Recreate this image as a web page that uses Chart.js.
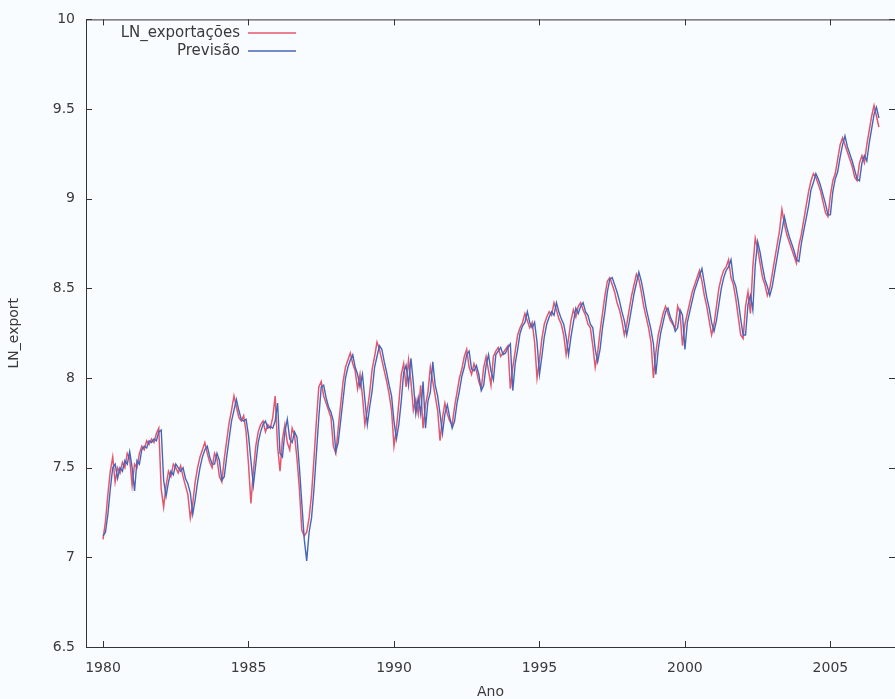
<!DOCTYPE html>
<html>
<head>
<meta charset="utf-8">
<title>LN_exportações vs Previsão</title>
<script src="https://cdn.jsdelivr.net/npm/chart.js@4.4.1/dist/chart.umd.min.js"></script>
<style>
    html, body { margin: 0; padding: 0; background: #f9fcfe; }
    canvas { display: block; }
</style>
</head>
<body>
<canvas id="chart" width="895" height="699"></canvas>
<script>
// monthly series, first value = Jan 1980
const startYear = 1980;
const xTicks = [1980, 1985, 1990, 1995, 2000, 2005];
const yTicks = [6.5, 7, 7.5, 8, 8.5, 9, 9.5, 10];

// LN_exportações (one row per year)
const exportacoes = [
    7.10, 7.20, 7.35, 7.48, 7.56, 7.42, 7.50, 7.47, 7.53, 7.50, 7.58, 7.55, // 1980
    7.40, 7.52, 7.50, 7.58, 7.62, 7.60, 7.65, 7.63, 7.66, 7.64, 7.69, 7.72, // 1981
    7.38, 7.28, 7.40, 7.48, 7.45, 7.52, 7.50, 7.47, 7.51, 7.45, 7.40, 7.35, // 1982
    7.22, 7.30, 7.42, 7.50, 7.56, 7.60, 7.64, 7.58, 7.53, 7.50, 7.58, 7.55, // 1983
    7.45, 7.42, 7.55, 7.65, 7.75, 7.82, 7.90, 7.84, 7.78, 7.76, 7.79, 7.70, // 1984
    7.52, 7.30, 7.48, 7.62, 7.70, 7.74, 7.76, 7.70, 7.74, 7.72, 7.78, 7.90, // 1985
    7.62, 7.48, 7.66, 7.74, 7.64, 7.60, 7.72, 7.68, 7.55, 7.38, 7.15, 7.12, // 1986
    7.14, 7.22, 7.35, 7.55, 7.76, 7.95, 7.98, 7.90, 7.86, 7.82, 7.78, 7.62, // 1987
    7.58, 7.72, 7.85, 7.98, 8.06, 8.10, 8.14, 8.08, 8.04, 7.94, 8.02, 7.90, // 1988
    7.74, 7.82, 7.92, 8.05, 8.12, 8.20, 8.16, 8.10, 8.04, 7.98, 7.91, 7.82, // 1989
    7.62, 7.72, 7.86, 8.02, 8.08, 7.95, 8.10, 7.98, 7.82, 7.88, 7.80, 7.96, // 1990
    7.72, 7.85, 7.92, 8.06, 7.98, 7.90, 7.82, 7.65, 7.78, 7.86, 7.80, 7.76, // 1991
    7.74, 7.84, 7.92, 8.00, 8.05, 8.12, 8.16, 8.06, 8.02, 8.08, 8.04, 7.98, // 1992
    7.94, 8.06, 8.12, 8.04, 7.96, 8.12, 8.15, 8.17, 8.12, 8.14, 8.16, 8.18, // 1993
    7.94, 8.06, 8.15, 8.24, 8.28, 8.31, 8.36, 8.32, 8.28, 8.31, 8.20, 8.00, // 1994
    8.10, 8.22, 8.30, 8.34, 8.37, 8.35, 8.42, 8.38, 8.33, 8.30, 8.24, 8.13, // 1995
    8.22, 8.32, 8.38, 8.34, 8.40, 8.42, 8.38, 8.35, 8.30, 8.28, 8.18, 8.06, // 1996
    8.14, 8.26, 8.36, 8.46, 8.54, 8.56, 8.52, 8.48, 8.42, 8.38, 8.32, 8.24, // 1997
    8.30, 8.38, 8.46, 8.52, 8.58, 8.55, 8.48, 8.40, 8.34, 8.28, 8.20, 8.00, // 1998
    8.14, 8.24, 8.30, 8.36, 8.40, 8.36, 8.32, 8.30, 8.28, 8.40, 8.36, 8.18, // 1999
    8.30, 8.36, 8.42, 8.48, 8.52, 8.56, 8.60, 8.54, 8.46, 8.40, 8.32, 8.24, // 2000
    8.30, 8.40, 8.50, 8.56, 8.60, 8.62, 8.66, 8.56, 8.52, 8.44, 8.34, 8.24, // 2001
    8.22, 8.40, 8.48, 8.36, 8.62, 8.78, 8.72, 8.64, 8.56, 8.52, 8.46, 8.50, // 2002
    8.58, 8.66, 8.74, 8.82, 8.94, 8.86, 8.80, 8.76, 8.72, 8.68, 8.64, 8.74, // 2003
    8.80, 8.88, 8.96, 9.04, 9.10, 9.14, 9.12, 9.08, 9.04, 8.98, 8.92, 8.90, // 2004
    9.02, 9.10, 9.14, 9.22, 9.30, 9.34, 9.30, 9.26, 9.22, 9.18, 9.12, 9.10, // 2005
    9.20, 9.24, 9.20, 9.30, 9.38, 9.46, 9.52, 9.46, 9.40                    // 2006
];

// Previsão (one row per year)
const previsao = [
    7.12, 7.14, 7.24, 7.38, 7.50, 7.52, 7.44, 7.50, 7.48, 7.54, 7.52, 7.59, // 1980
    7.50, 7.37, 7.54, 7.52, 7.60, 7.62, 7.61, 7.65, 7.64, 7.66, 7.65, 7.70, // 1981
    7.71, 7.43, 7.34, 7.42, 7.48, 7.46, 7.52, 7.50, 7.48, 7.50, 7.44, 7.41, // 1982
    7.36, 7.24, 7.32, 7.42, 7.50, 7.56, 7.60, 7.62, 7.56, 7.52, 7.52, 7.58, // 1983
    7.54, 7.43, 7.45, 7.56, 7.66, 7.76, 7.82, 7.88, 7.82, 7.77, 7.76, 7.77, // 1984
    7.68, 7.54, 7.40, 7.52, 7.64, 7.70, 7.74, 7.76, 7.72, 7.73, 7.72, 7.76, // 1985
    7.86, 7.58, 7.56, 7.70, 7.77, 7.66, 7.64, 7.70, 7.67, 7.50, 7.30, 7.10, // 1986
    6.98, 7.14, 7.22, 7.38, 7.58, 7.78, 7.95, 7.96, 7.89, 7.84, 7.81, 7.76, // 1987
    7.59, 7.64, 7.76, 7.88, 8.00, 8.06, 8.10, 8.13, 8.06, 8.02, 7.95, 8.02, // 1988
    7.88, 7.74, 7.84, 7.93, 8.06, 8.12, 8.18, 8.16, 8.09, 8.03, 7.96, 7.90, // 1989
    7.76, 7.66, 7.74, 7.87, 8.03, 8.07, 7.96, 8.11, 7.97, 7.80, 7.89, 7.80, // 1990
    7.98, 7.72, 7.87, 7.92, 8.09, 7.96, 7.90, 7.80, 7.69, 7.80, 7.85, 7.78, // 1991
    7.72, 7.76, 7.86, 7.93, 8.01, 8.06, 8.13, 8.15, 8.05, 8.04, 8.07, 8.02, // 1992
    7.93, 7.96, 8.07, 8.13, 8.04, 7.99, 8.13, 8.15, 8.17, 8.13, 8.14, 8.17, // 1993
    8.19, 7.93, 8.08, 8.16, 8.25, 8.29, 8.31, 8.37, 8.31, 8.28, 8.31, 8.20, // 1994
    8.02, 8.12, 8.23, 8.30, 8.34, 8.37, 8.35, 8.42, 8.37, 8.33, 8.30, 8.23, // 1995
    8.13, 8.23, 8.31, 8.39, 8.36, 8.40, 8.42, 8.37, 8.35, 8.30, 8.28, 8.16, // 1996
    8.09, 8.16, 8.28, 8.37, 8.48, 8.55, 8.56, 8.52, 8.48, 8.43, 8.37, 8.32, // 1997
    8.24, 8.31, 8.39, 8.47, 8.53, 8.59, 8.54, 8.47, 8.39, 8.33, 8.27, 8.19, // 1998
    8.02, 8.16, 8.25, 8.31, 8.37, 8.39, 8.34, 8.31, 8.26, 8.28, 8.38, 8.35, // 1999
    8.16, 8.31, 8.37, 8.43, 8.49, 8.53, 8.57, 8.61, 8.53, 8.45, 8.39, 8.31, // 2000
    8.26, 8.32, 8.41, 8.50, 8.56, 8.60, 8.62, 8.66, 8.55, 8.51, 8.43, 8.33, // 2001
    8.24, 8.24, 8.41, 8.46, 8.38, 8.63, 8.76, 8.70, 8.62, 8.55, 8.51, 8.46, // 2002
    8.51, 8.59, 8.67, 8.75, 8.82, 8.90, 8.84, 8.79, 8.75, 8.71, 8.66, 8.65, // 2003
    8.75, 8.82, 8.89, 8.96, 9.05, 9.09, 9.14, 9.11, 9.07, 9.02, 8.97, 8.91, // 2004
    8.91, 9.04, 9.11, 9.15, 9.23, 9.30, 9.35, 9.29, 9.25, 9.21, 9.16, 9.11, // 2005
    9.10, 9.20, 9.24, 9.21, 9.31, 9.39, 9.47, 9.51, 9.45                    // 2006
];

function toPoints(values) {
    return values.map((v, i) => ({ x: startYear + i / 12, y: v }));
}

const fontFamily = '"DejaVu Sans", Verdana, sans-serif';
const textColor = '#3a3a3a';

// gnuplot style box with inward ticks on all four sides
const framePlugin = {
    id: 'frame',
    afterDatasetsDraw(chart) {
        const { ctx, chartArea: a, scales } = chart;
        const len = 6;
        ctx.save();
        ctx.strokeStyle = '#333';
        ctx.lineWidth = 1;
        ctx.strokeRect(a.left + 0.5, a.top + 0.5, a.right - a.left, a.bottom - a.top);
        ctx.beginPath();
        scales.x.ticks.forEach(t => {
            const px = Math.round(scales.x.getPixelForValue(t.value)) + 0.5;
            ctx.moveTo(px, a.bottom); ctx.lineTo(px, a.bottom - len);
            ctx.moveTo(px, a.top); ctx.lineTo(px, a.top + len);
        });
        scales.y.ticks.forEach(t => {
            const py = Math.round(scales.y.getPixelForValue(t.value)) + 0.5;
            ctx.moveTo(a.left, py); ctx.lineTo(a.left + len, py);
            ctx.moveTo(a.right, py); ctx.lineTo(a.right - len, py);
        });
        ctx.stroke();
        ctx.restore();
    }
};

// legend inside the plot, text right aligned then line sample
const legendPlugin = {
    id: 'insideLegend',
    afterDraw(chart) {
        const ctx = chart.ctx;
        ctx.save();
        ctx.font = '15px ' + fontFamily;
        ctx.textAlign = 'right';
        ctx.textBaseline = 'middle';
        chart.data.datasets.forEach((ds, i) => {
            const y = 33 + i * 18;
            ctx.fillStyle = textColor;
            ctx.fillText(ds.label, 240, y);
            ctx.strokeStyle = ds.borderColor;
            ctx.lineWidth = 1.5;
            ctx.beginPath();
            ctx.moveTo(248, y);
            ctx.lineTo(296, y);
            ctx.stroke();
        });
        ctx.restore();
    }
};

const ctx = document.getElementById('chart').getContext('2d');
new Chart(ctx, {
    type: 'line',
    data: {
        datasets: [
            {
                label: 'LN_exportações',
                data: toPoints(exportacoes),
                borderColor: '#e4566e',
                borderWidth: 1.5,
                pointRadius: 0,
                tension: 0,
                order: 1
            },
            {
                label: 'Previsão',
                data: toPoints(previsao),
                borderColor: '#4466b8',
                borderWidth: 1.4,
                pointRadius: 0,
                tension: 0,
                order: 0
            }
        ]
    },
    options: {
        responsive: false,
        animation: false,
        devicePixelRatio: 1,
        layout: { padding: { top: 16, right: 0, left: 0, bottom: 0 } },
        plugins: {
            legend: { display: false },
            tooltip: { enabled: false }
        },
        scales: {
            x: {
                type: 'linear',
                min: 1979.415,
                max: 2007.22,
                afterBuildTicks: scale => { scale.ticks = xTicks.map(v => ({ value: v })); },
                afterFit: scale => { scale.height = 52; },
                grid: { display: false, drawTicks: false },
                border: { display: false },
                ticks: {
                    padding: 13,
                    color: textColor,
                    font: { family: fontFamily, size: 14 },
                    maxRotation: 0,
                    callback: v => String(v)
                },
                title: {
                    display: true,
                    text: 'Ano',
                    color: textColor,
                    font: { family: fontFamily, size: 14, lineHeight: 1 },
                    padding: { top: 0, bottom: 0 }
                }
            },
            y: {
                min: 6.5,
                max: 10,
                afterBuildTicks: scale => { scale.ticks = yTicks.map(v => ({ value: v })); },
                afterFit: scale => { scale.width = 86; },
                grid: { display: false, drawTicks: false },
                border: { display: false },
                ticks: {
                    padding: 11,
                    color: textColor,
                    font: { family: fontFamily, size: 14 },
                    callback: v => String(v)
                },
                title: {
                    display: true,
                    text: 'LN_export',
                    color: textColor,
                    font: { family: fontFamily, size: 14 },
                    padding: { top: 6, bottom: 0 }
                }
            }
        }
    },
    plugins: [framePlugin, legendPlugin]
});
</script>
</body>
</html>
